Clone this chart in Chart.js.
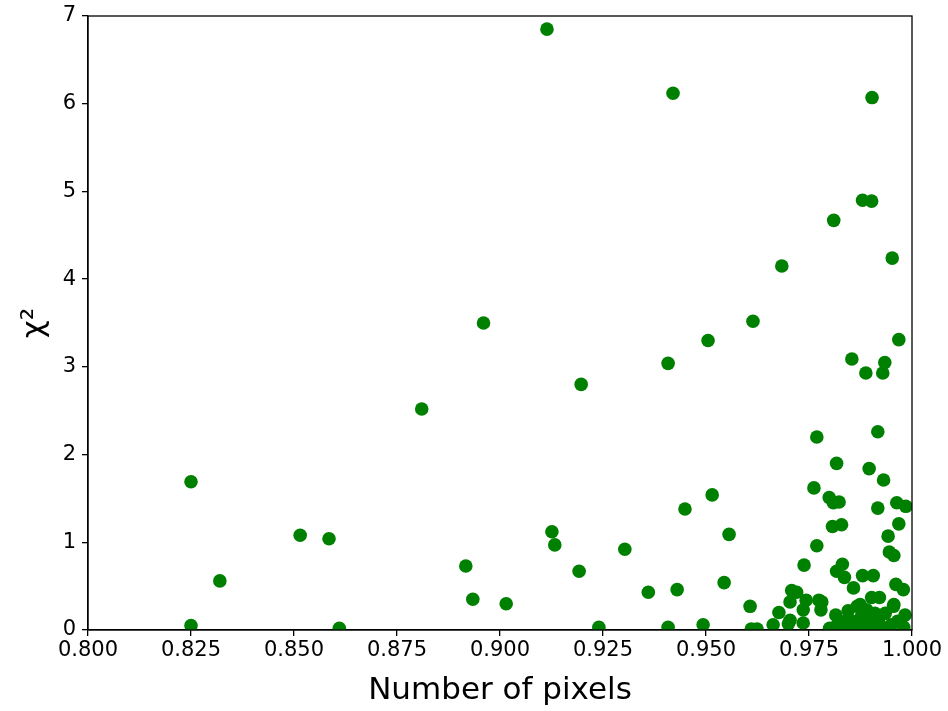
<!DOCTYPE html>
<html>
<head>
<meta charset="utf-8">
<script src="https://cdn.jsdelivr.net/npm/chart.js@4/dist/chart.umd.min.js"></script>
<style>
  html, body { margin: 0; padding: 0; background: #fff; }
  #wrap { width: 948px; height: 711px; }
</style>
</head>
<body>
<div id="wrap"><canvas id="scatterChart"></canvas></div>
<script>
// fraction of pixels (x) against chi-squared (y)
const pixelFrac = [
  0.825, 0.825, 0.832, 0.8515, 0.8585, 0.861, 0.881, 0.8917, 0.8934, 0.896,
  0.9015, 0.9114, 0.9126, 0.9133, 0.9197, 0.9192, 0.924, 0.9303, 0.936, 0.9408,
  0.9408, 0.942, 0.943, 0.9449, 0.9493, 0.9505, 0.9515, 0.9544, 0.9556, 0.9607,
  0.9614, 0.961, 0.9624, 0.9663, 0.9677, 0.9684, 0.970, 0.9708, 0.972, 0.9704,
  0.9743, 0.9774, 0.9736, 0.9779, 0.9704, 0.9736, 0.9738, 0.9769, 0.9769, 0.9762,
  0.9799, 0.9809, 0.9823, 0.9807, 0.9829, 0.9817, 0.9831, 0.9836, 0.9858, 0.988,
  0.9906, 0.9815, 0.9845, 0.9867, 0.9902, 0.9921, 0.9781, 0.9874, 0.989, 0.991,
  0.9935, 0.9817, 0.9896, 0.9931, 0.9917, 0.9917, 0.9963, 0.9985, 0.9968, 0.9942,
  0.9945, 0.9956, 0.9961, 0.9979, 0.9955, 0.9983, 0.9956, 0.9903, 0.988, 0.9902,
  0.981, 0.9952, 0.9968, 0.9854, 0.9934, 0.9888, 0.9929, 0.980, 0.9815, 0.983,
  0.985, 0.9865, 0.988, 0.989, 0.9905, 0.992, 0.9935, 0.995, 0.9965, 0.998,
  0.9875, 0.9845, 0.9915
];
const chiSq = [
  1.69, 0.05, 0.56, 1.08, 1.04, 0.02, 2.52, 0.73, 0.35, 3.50,
  0.30, 6.85, 1.12, 0.97, 2.80, 0.67, 0.03, 0.92, 0.43, 3.04,
  0.03, 6.12, 0.46, 1.38, 0.06, 3.30, 1.54, 0.54, 1.09, 0.27,
  3.52, 0.01, 0.01, 0.06, 0.20, 4.15, 0.07, 0.45, 0.43, 0.32,
  0.34, 0.34, 0.23, 0.23, 0.11, 0.08, 0.74, 0.96, 2.20, 1.62,
  1.51, 1.45, 1.46, 1.18, 1.20, 0.67, 0.75, 0.60, 0.48, 0.62,
  0.62, 0.17, 0.22, 0.27, 0.37, 0.37, 0.32, 0.29, 0.23, 0.19,
  0.19, 1.90, 1.84, 1.71, 2.26, 1.39, 1.45, 1.41, 1.21, 1.07,
  0.89, 0.85, 0.52, 0.46, 0.27, 0.17, 0.29, 6.07, 4.90, 4.89,
  4.67, 4.24, 3.31, 3.09, 3.05, 2.93, 2.93, 0.02, 0.04, 0.06,
  0.03, 0.09, 0.05, 0.12, 0.04, 0.08, 0.02, 0.06, 0.10, 0.03,
  0.14, 0.13, 0.14
];
const xTicks = [0.800, 0.825, 0.850, 0.875, 0.900, 0.925, 0.950, 0.975, 1.000];
const yTicks = [0, 1, 2, 3, 4, 5, 6, 7];

const points = pixelFrac.map((x, i) => ({ x: x, y: chiSq[i] }));

// matplotlib-style box around the plot area
const frameBox = {
  id: 'frameBox',
  afterDraw(chart) {
    const a = chart.chartArea;
    const ctx = chart.ctx;
    ctx.save();
    ctx.strokeStyle = '#000';
    ctx.lineWidth = 1.3;
    ctx.strokeRect(a.left, a.top, a.right - a.left, a.bottom - a.top);
    ctx.restore();
  }
};

const tickFont = { family: 'DejaVu Sans', size: 21 };
const titleFont = { family: 'DejaVu Sans', size: 31 };

new Chart(document.getElementById('scatterChart'), {
  type: 'scatter',
  data: {
    datasets: [{
      data: points,
      backgroundColor: '#008000',
      borderWidth: 0,
      pointRadius: 6.8,
      pointHoverRadius: 6.8
    }]
  },
  options: {
    responsive: true,
    maintainAspectRatio: false,
    animation: false,
    layout: { padding: { top: 16, right: 36, left: 0, bottom: 0 } },
    plugins: { legend: { display: false }, tooltip: { enabled: false } },
    scales: {
      x: {
        type: 'linear',
        min: 0.8,
        max: 1.0,
        afterBuildTicks: s => { s.ticks = xTicks.map(v => ({ value: v })); },
        afterFit: s => { s.height = 81; s.paddingLeft = 0; s.paddingRight = 0; },
        ticks: {
          color: '#000',
          font: tickFont,
          padding: 2,
          maxRotation: 0,
          callback: v => v.toFixed(3)
        },
        grid: { drawOnChartArea: false, drawTicks: true, tickLength: 6, color: '#000', lineWidth: 1.3 },
        border: { display: true, color: '#000', width: 1.3 },
        title: { display: true, text: 'Number of pixels', color: '#000', font: titleFont, padding: { top: 0, bottom: 1 } }
      },
      y: {
        type: 'linear',
        min: 0,
        max: 7,
        afterBuildTicks: s => { s.ticks = yTicks.map(v => ({ value: v })); },
        afterFit: s => { s.width = 88; s.paddingTop = 0; s.paddingBottom = 0; },
        ticks: { color: '#000', font: tickFont, padding: 6 },
        grid: { drawOnChartArea: false, drawTicks: true, tickLength: 6, color: '#000', lineWidth: 1.3 },
        border: { display: true, color: '#000', width: 1.3 },
        title: { display: true, text: 'χ²', color: '#000', font: titleFont, padding: { top: 16, bottom: 0 } }
      }
    }
  },
  plugins: [frameBox]
});
</script>
</body>
</html>
